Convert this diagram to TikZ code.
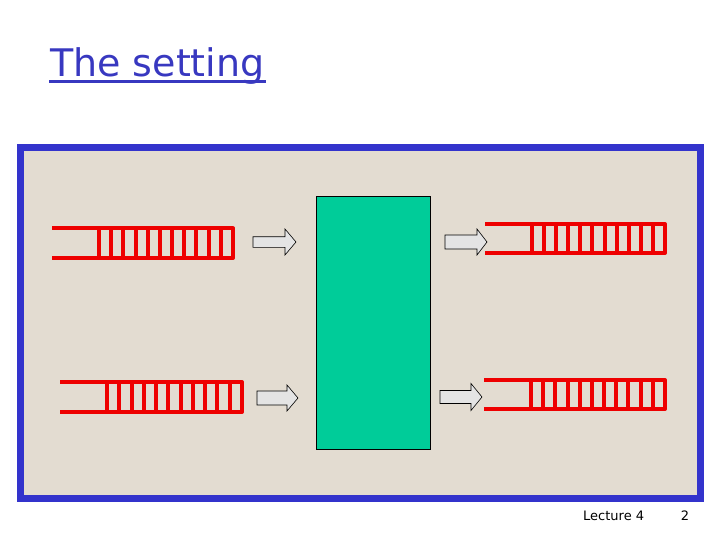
\documentclass[tikz,border=0pt]{standalone}
\usepackage{fontspec}
\setmainfont{DejaVu Sans}
\definecolor{frameblue}{HTML}{3333CC}
\definecolor{titleblue}{HTML}{3838C0}
\definecolor{bgbeige}{HTML}{E3DCD1}
\definecolor{switchgreen}{HTML}{00CC99}
\definecolor{qred}{HTML}{EE0000}
\definecolor{arrowgray}{HTML}{E4E4E4}
\tikzset{
  queueline/.style={draw=qred, line width=4pt, line join=round},
  arrowshape/.style={draw=black, fill=arrowgray, line width=0.6pt},
  framebox/.style={draw=frameblue, line width=7pt, fill=bgbeige},
  switchbox/.style={draw=black, fill=switchgreen, line width=0.8pt, minimum width=114pt, minimum height=253pt, inner sep=0pt},
}
\newcommand{\myqueue}[5]{%
  \draw[queueline] (#1,#4) -- (#3,#4) -- (#3,#5) -- (#1,#5);
  \foreach \i in {0,...,10} {\draw[queueline] ({#2+\i*(#3-#2)/11},#4) -- ({#2+\i*(#3-#2)/11},#5);}
}
\newcommand{\blockarrow}[6]{%
  \draw[arrowshape] (#1,#4-#5) -- (#2,#4-#5) -- (#2,#4-#6) -- (#3,#4) -- (#2,#4+#6) -- (#2,#4+#5) -- (#1,#4+#5) -- cycle;
}
\begin{document}
\begin{tikzpicture}[x=1pt,y=-1pt]
\useasboundingbox[fill=white] (0,0) rectangle (720,540);
% title
\node[anchor=base west, inner sep=0pt, text=titleblue, font=\fontsize{38}{40}\selectfont] (title) at (50,77) {The setting};
\draw[titleblue, line width=2.5pt] (49,81.5) -- (266,81.5);
% frame
\draw[framebox] (20.5,147.5) rectangle (700.5,498.5);
% switch
\node[switchbox] (switch) at (373,322.5) {};
% queues
\myqueue{52}{99}{233}{228.5}{258}
\myqueue{60}{107}{242}{382}{412}
\myqueue{485}{532}{665}{224}{253}
\myqueue{484}{531}{665}{380}{409}
% arrows
\blockarrow{253}{285}{296}{242}{5.3}{13}
\blockarrow{257}{287}{298}{398}{7}{13}
\blockarrow{445}{477}{487}{242}{7}{13}
\blockarrow{440}{471}{482}{397}{6.5}{13.5}
% footer
\node[anchor=base west, inner sep=0pt, font=\fontsize{13}{15}\selectfont] (lecture) at (583,520) {Lecture 4};
\node[anchor=base, inner sep=0pt, font=\fontsize{13}{15}\selectfont] (pagenum) at (685,520) {2};
\end{tikzpicture}
\end{document}
